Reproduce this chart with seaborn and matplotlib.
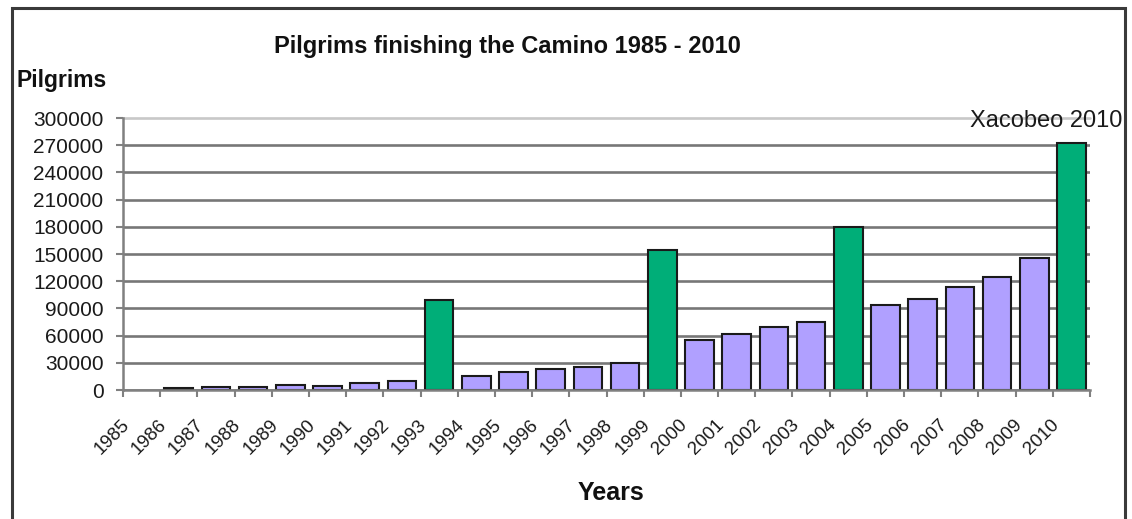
import matplotlib
matplotlib.use('Agg')
import matplotlib.pyplot as plt
import seaborn as sns
import pandas as pd
import numpy as np
from matplotlib.patches import Rectangle

years = [str(y) for y in range(1985, 2011)]
pilgrims = [np.nan, 1800, 2900, 3500, 5800, 4900, 7300, 9800, 99400,
            15900, 19800, 23200, 25200, 30100, 154600,
            55000, 61400, 69000, 74600, 179900,
            93900, 100400, 114000, 125100, 145900, 272100]
holy_years = ['1993', '1999', '2004', '2010']
y_ticks = list(range(0, 300001, 30000))

green = '#00AE78'
purple = '#B0A0FF'

df = pd.DataFrame({'year': years, 'pilgrims': pilgrims})
df['kind'] = np.where(df['year'].isin(holy_years), 'holy', 'normal')

sns.set_theme(style='white')
plt.rcParams['font.family'] = ['Liberation Sans', 'DejaVu Sans']

W, H = 1132, 519
fig = plt.figure(figsize=(W / 100, H / 100), dpi=100)
ax = fig.add_axes([123 / W, 1 - 390 / H, (1090 - 123) / W, (390 - 118) / H])

sns.barplot(data=df, x='year', y='pilgrims', hue='kind', order=years,
            palette={'holy': green, 'normal': purple}, dodge=False,
            width=0.77, edgecolor='#1a1a1a', linewidth=1.5, legend=False,
            saturation=1, ax=ax)

ax.set_xlim(-0.5, len(years) - 0.5)
ax.set_ylim(0, 300000)

# y axis
ax.set_yticks(y_ticks, [str(v) for v in y_ticks])
ax.tick_params(axis='y', left=True, length=5, width=1.5, color='#808080',
               pad=9, labelsize=15, labelcolor='#1a1a1a')
ax.yaxis.grid(True, color='#777777', lw=1.9)
ax.set_axisbelow(True)
top_line = ax.get_ygridlines()[-1]
top_line.set_color('#c8c8c8')
top_line.set_clip_on(False)

# x axis: tick marks between categories, labels shifted
ax.set_xticks(np.arange(len(years) + 1) - 0.5, [''] * (len(years) + 1))
ax.tick_params(axis='x', which='major', bottom=True, length=5, width=1.5,
               color='#808080')
ax.set_xticks(np.arange(len(years)) - 0.24, years, minor=True)
ax.tick_params(axis='x', which='minor', bottom=True, length=0, pad=19,
               labelsize=13.5, labelcolor='#1a1a1a')
plt.setp(ax.get_xticklabels(minor=True), rotation=45, ha='right')

ax.set_xlabel('')
ax.set_ylabel('')
for side in ['top', 'right']:
    ax.spines[side].set_visible(False)
for side in ['left', 'bottom']:
    ax.spines[side].set_color('#808080')
    ax.spines[side].set_linewidth(1.8)

ax.annotate('Xacobeo 2010', xy=(1, 300000), xycoords=('axes fraction', 'data'),
            xytext=(23, -2), textcoords='offset points', ha='right',
            va='center', fontsize=17, color='#1a1a1a', annotation_clip=False)

fig.text(507 / W, 1 - 53 / H, 'Pilgrims finishing the Camino 1985 - 2010',
         ha='center', va='baseline', fontsize=17, fontweight='bold',
         color='#111111')
fig.text(16 / W, 1 - 87 / H, 'Pilgrims', ha='left', va='baseline',
         fontsize=16.5, fontweight='bold', color='#111111')
fig.text(611 / W, 1 - 500 / H, 'Years', ha='center', va='baseline',
         fontsize=18, fontweight='bold', color='#111111')

fig.patches.append(Rectangle((12 / W, -0.1), (1125 - 12) / W, 1 - 8 / H + 0.1,
                             transform=fig.transFigure, fill=False,
                             edgecolor='#3a3a3a', lw=2.2))

plt.savefig('out.png', dpi=100)
plt.close()
